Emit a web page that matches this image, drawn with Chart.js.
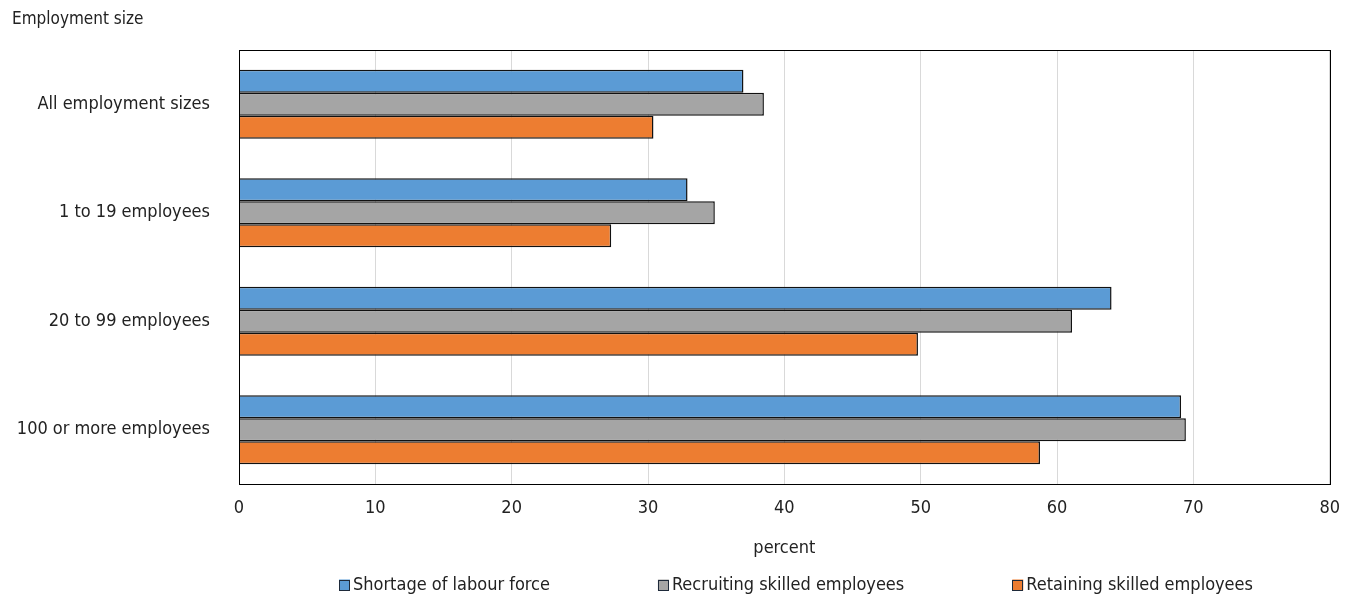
<!DOCTYPE html>
<html>
<head>
<meta charset="utf-8">
<script src="https://cdn.jsdelivr.net/npm/chart.js@4"></script>
<style>
  html, body { margin: 0; padding: 0; background: #fff; }
  #wrap { width: 1354px; height: 598px; position: relative; }
</style>
</head>
<body>
<div id="wrap"><canvas id="c"></canvas></div>
<script>
// Employment size groups and the share of businesses reporting each obstacle (percent)
const categories = ['All employment sizes', '1 to 19 employees', '20 to 99 employees', '100 or more employees'];
const shortageLabour = [37.0, 32.9, 64.0, 69.1];
const recruitingSkilled = [38.5, 34.9, 61.1, 69.45];
const retainingSkilled = [30.4, 27.3, 49.8, 58.75];
const seriesNames = ['Shortage of labour force', 'Recruiting skilled employees', 'Retaining skilled employees'];
const xTicks = [0, 10, 20, 30, 40, 50, 60, 70, 80];

const FONT = '"Liberation Sans Narrow", "DejaVu Sans Condensed", "Liberation Sans", sans-serif';
const TEXT = '#222222';

// Frame around the plot area, the heading above the axis labels, and the legend row
const framePlugin = {
  id: 'frame',
  afterDraw(chart) {
    const { ctx, chartArea: a } = chart;
    ctx.save();
    ctx.strokeStyle = '#000';
    ctx.lineWidth = 1;
    ctx.strokeRect(Math.round(a.left) + 0.5, Math.round(a.top) + 0.5, Math.round(a.right - a.left), Math.round(a.bottom - a.top));

    ctx.fillStyle = TEXT;
    ctx.font = '17px ' + FONT;
    ctx.textBaseline = 'middle';
    ctx.textAlign = 'left';
    ctx.fillText('Employment size', 12, 20);

    // legend: small square swatch followed by the series name
    ctx.font = '18px ' + FONT;
    const box = 11, gapText = 3, gapItem = 108, y = 585;
    const items = chart.data.datasets.map(d => ({ d, w: box + gapText + ctx.measureText(d.label).width }));
    const total = items.reduce((s, it) => s + it.w, 0) + gapItem * (items.length - 1);
    let x = 796 - total / 2;
    items.forEach(it => {
      ctx.fillStyle = it.d.backgroundColor;
      ctx.fillRect(x, y - box / 2, box, box);
      ctx.strokeStyle = '#1e2a3a';
      ctx.lineWidth = 1;
      ctx.strokeRect(Math.round(x) + 0.5, Math.round(y - box / 2) + 0.5, box - 1, box - 1);
      ctx.fillStyle = TEXT;
      ctx.fillText(it.d.label, x + box + gapText, y);
      x += it.w + gapItem;
    });
    ctx.restore();
  }
};

new Chart(document.getElementById('c'), {
  type: 'bar',
  data: {
    labels: categories,
    datasets: [
      { label: seriesNames[0], data: shortageLabour, backgroundColor: '#5B9BD5' },
      { label: seriesNames[1], data: recruitingSkilled, backgroundColor: '#A5A5A5' },
      { label: seriesNames[2], data: retainingSkilled, backgroundColor: '#ED7D31' }
    ].map(d => Object.assign(d, { borderColor: '#111111', borderWidth: 1.5, categoryPercentage: 0.636, barPercentage: 1 }))
  },
  options: {
    indexAxis: 'y',
    responsive: true,
    maintainAspectRatio: false,
    animation: false,
    devicePixelRatio: 1,
    layout: { padding: { left: 10, right: 23, top: 50, bottom: 39 } },
    font: { family: FONT },
    scales: {
      x: {
        min: 0, max: 80,
        afterBuildTicks(s) { s.ticks = xTicks.map(v => ({ value: v })); },
        afterFit(s) { s.height = 75; },
        grid: { color: '#d9d9d9', lineWidth: 1, drawTicks: false },
        border: { display: false },
        ticks: { color: TEXT, padding: 14, font: { family: FONT, size: 18 } },
        title: { display: true, text: 'percent', color: TEXT, font: { family: FONT, size: 18 }, padding: { top: 19, bottom: 0 } }
      },
      y: {
        afterFit(s) { s.width = 229; },
        grid: { display: false, drawTicks: false },
        border: { display: false },
        ticks: { color: TEXT, padding: 29, font: { family: FONT, size: 18 } }
      }
    },
    plugins: {
      legend: { display: false },
      tooltip: { enabled: false }
    }
  },
  plugins: [framePlugin]
});
</script>
</body>
</html>
